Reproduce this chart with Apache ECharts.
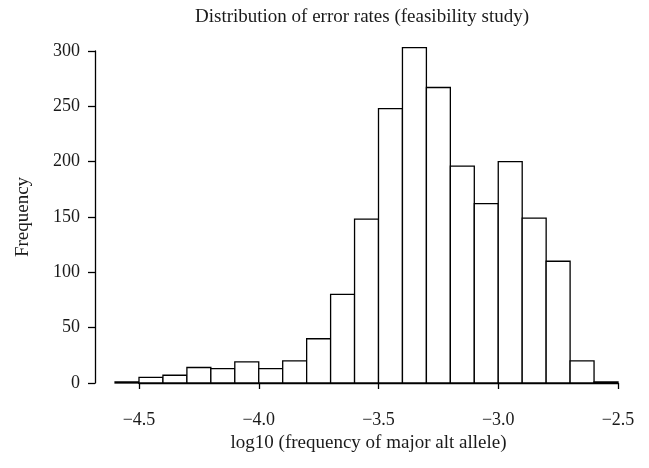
<!DOCTYPE html>
<html>
<head>
<meta charset="utf-8">
<script src="https://cdn.jsdelivr.net/npm/echarts@6/dist/echarts.min.js"></script>
<style>
  html, body { margin: 0; padding: 0; background: #fff; }
  #chart { width: 649px; height: 468px; }
</style>
</head>
<body>
<div id="chart"></div>
<script>
// histogram bins (log10 scale), width 0.1
var binStart = [-4.6, -4.5, -4.4, -4.3, -4.2, -4.1, -4.0, -3.9, -3.8, -3.7, -3.6,
                -3.5, -3.4, -3.3, -3.2, -3.1, -3.0, -2.9, -2.8, -2.7, -2.6];
var binEnd   = [-4.5, -4.4, -4.3, -4.2, -4.1, -4.0, -3.9, -3.8, -3.7, -3.6, -3.5,
                -3.4, -3.3, -3.2, -3.1, -3.0, -2.9, -2.8, -2.7, -2.6, -2.5];
var counts   = [1, 5, 7, 14, 13, 19, 13, 20, 40, 80, 148,
                248, 303, 267, 196, 162, 200, 149, 110, 20, 1];

var font = 'Liberation Serif';
var txt = '#1a1a1a';

var seriesData = [];
for (var i = 0; i < counts.length; i++) {
  seriesData.push([binStart[i], binEnd[i], counts[i]]);
}

function drawBin(params, api) {
  var a = api.coord([api.value(0), api.value(2)]);
  var b = api.coord([api.value(1), 0]);
  return {
    type: 'rect',
    shape: { x: a[0], y: a[1], width: b[0] - a[0], height: b[1] - a[1] },
    style: { fill: '#fff', stroke: '#000', lineWidth: 1.3 }
  };
}

var myChart = echarts.init(document.getElementById('chart'));
var option = {
  animation: false,
  backgroundColor: '#fff',
  title: {
    text: 'Distribution of error rates (feasibility study)',
    left: 357,
    textAlign: 'center',
    top: 3,
    textStyle: { fontFamily: font, fontSize: 19, fontWeight: 'normal', color: txt }
  },
  grid: { left: 139, right: 31, top: 51, bottom: 85 },
  xAxis: {
    type: 'value',
    min: -4.5,
    max: -2.5,
    interval: 0.5,
    offset: 14,
    name: 'log10 (frequency of major alt allele)',
    nameLocation: 'middle',
    nameGap: 33,
    nameTextStyle: { fontFamily: font, fontSize: 19, color: txt, padding: [0, 20, 0, 0] },
    axisLine: { show: true, lineStyle: { color: '#000', width: 1.3 } },
    axisTick: { show: true, length: 6, lineStyle: { color: '#000', width: 1.3 } },
    axisLabel: {
      margin: 14,
      fontFamily: font, fontSize: 18, color: txt,
      formatter: function (v) { return v.toFixed(1).replace('-', '\u2212'); }
    },
    splitLine: { show: false }
  },
  yAxis: {
    type: 'value',
    min: 0,
    max: 300,
    interval: 50,
    offset: 44,
    name: 'Frequency',
    nameLocation: 'middle',
    nameGap: 62,
    nameTextStyle: { fontFamily: font, fontSize: 19, color: txt },
    axisLine: { show: true, lineStyle: { color: '#000', width: 1.3 } },
    axisTick: { show: true, length: 7, lineStyle: { color: '#000', width: 1.3 } },
    axisLabel: { margin: 15, fontFamily: font, fontSize: 18, color: txt },
    splitLine: { show: false }
  },
  series: [{
    type: 'custom',
    renderItem: drawBin,
    clip: false,
    encode: { x: [0, 1], y: 2 },
    data: seriesData
  }]
};
myChart.setOption(option);
</script>
</body>
</html>
